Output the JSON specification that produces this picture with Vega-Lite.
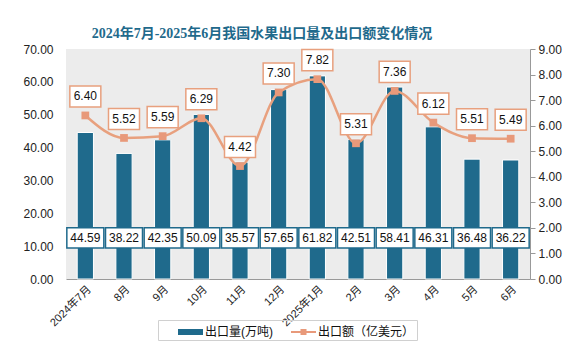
{
  "$schema": "https://vega.github.io/schema/vega-lite/v6.json",
  "width": 464,
  "height": 230,
  "autosize": {"type": "none"},
  "padding": {"left": 66, "top": 49, "right": 58, "bottom": 82},
  "background": "white",
  "title": {
    "text": "2024年7月-2025年6月我国水果出口量及出口额变化情况",
    "font": "Liberation Serif, Noto Sans CJK SC",
    "fontSize": 14,
    "fontWeight": "bold",
    "color": "#1f6a8c",
    "anchor": "middle",
    "dx": -36,
    "offset": 2
  },
  "config": {
    "view": {"fill": "#ececec", "stroke": null},
    "axis": {"labelFont": "Liberation Sans, Noto Sans CJK SC", "labelColor": "#222222", "grid": false, "title": null}
  },
  "data": {
    "values": [
      {"month": "2024年7月", "volume": 44.59, "amount": 6.40},
      {"month": "8月", "volume": 38.22, "amount": 5.52},
      {"month": "9月", "volume": 42.35, "amount": 5.59},
      {"month": "10月", "volume": 50.09, "amount": 6.29},
      {"month": "11月", "volume": 35.57, "amount": 4.42},
      {"month": "12月", "volume": 57.65, "amount": 7.30},
      {"month": "2025年1月", "volume": 61.82, "amount": 7.82},
      {"month": "2月", "volume": 42.51, "amount": 5.31},
      {"month": "3月", "volume": 58.41, "amount": 7.36},
      {"month": "4月", "volume": 46.31, "amount": 6.12},
      {"month": "5月", "volume": 36.48, "amount": 5.51},
      {"month": "6月", "volume": 36.22, "amount": 5.49}
    ]
  },
  "encoding": {
    "x": {
      "field": "month",
      "type": "ordinal",
      "sort": null,
      "scale": {"paddingInner": 0, "paddingOuter": 0},
      "axis": {"labelAngle": -45, "labelFontSize": 11, "domainColor": "#999999", "ticks": false, "labelPadding": 4}
    }
  },
  "layer": [
    {
      "encoding": {
        "y": {
          "field": "volume",
          "type": "quantitative",
          "scale": {"domain": [0, 70]},
          "axis": {"orient": "left", "format": ".2f", "values": [0, 10, 20, 30, 40, 50, 60, 70], "domain": false, "ticks": false, "labelPadding": 13, "labelFontSize": 12}
        }
      },
      "layer": [
        {"mark": {"type": "bar", "color": "#1f6a8c", "stroke": "white", "strokeWidth": 1, "width": {"band": 0.42}}},
        {
          "mark": {"type": "point", "shape": "M-1,-0.55H1V0.55H-1Z", "size": 1369, "filled": true, "fill": "white", "stroke": "#1f6a8c", "strokeWidth": 1.5, "opacity": 1},
          "encoding": {"y": {"datum": 12.5, "type": "quantitative"}}
        },
        {
          "mark": {"type": "text", "fontSize": 12, "font": "Liberation Sans", "color": "#111111", "baseline": "middle"},
          "encoding": {"y": {"datum": 12.5, "type": "quantitative"}, "text": {"field": "volume", "type": "quantitative", "format": ".2f"}}
        }
      ]
    },
    {
      "encoding": {
        "y": {
          "field": "amount",
          "type": "quantitative",
          "scale": {"domain": [0, 9]},
          "axis": {"orient": "right", "format": ".2f", "values": [0, 1, 2, 3, 4, 5, 6, 7, 8, 9], "domain": true, "domainColor": "#999999", "ticks": true, "tickColor": "#999999", "tickSize": 5, "labelPadding": 3, "labelFontSize": 12}
        }
      },
      "layer": [
        {"mark": {"type": "line", "interpolate": "monotone", "color": "#e8a07e", "strokeWidth": 2.5}},
        {"mark": {"type": "point", "shape": "square", "size": 60, "filled": true, "color": "#e8997a", "opacity": 1}},
        {"mark": {"type": "point", "shape": "M-1,-0.68H1V0.68H-1Z", "size": 961, "filled": true, "fill": "white", "stroke": "#e8a07e", "strokeWidth": 1.5, "opacity": 1, "yOffset": -19}},
        {
          "mark": {"type": "text", "fontSize": 12, "font": "Liberation Sans", "color": "#111111", "baseline": "middle", "dy": -19},
          "encoding": {"text": {"field": "amount", "type": "quantitative", "format": ".2f"}}
        }
      ]
    },
    {
      "transform": [{"filter": "false"}],
      "mark": {"type": "point", "filled": true, "size": 400, "opacity": 1},
      "encoding": {
        "color": {
          "field": "series",
          "type": "nominal",
          "scale": {"domain": ["出口量(万吨)", "出口额（亿美元）"], "range": ["#1f6a8c", "#e8997a"]},
          "legend": {"orient": "none", "legendX": 92, "legendY": 271, "direction": "horizontal", "title": null, "strokeColor": "#d0d0d0", "padding": 2, "symbolSize": 400, "symbolStrokeWidth": 0, "labelOffset": 25, "columnPadding": 0, "labelFontSize": 12, "labelFont": "Liberation Sans, Noto Sans CJK SC", "labelColor": "#111111"}
        },
        "shape": {
          "field": "series",
          "type": "nominal",
          "scale": {"domain": ["出口量(万吨)", "出口额（亿美元）"], "range": ["M0.8,-0.3H3.3V0.3H0.8Z", "M0.8,-0.1H3.3V0.1H0.8Z M1.75,-0.3H2.35V0.3H1.75Z"]}
        }
      }
    }
  ],
  "resolve": {"scale": {"y": "independent"}}
}
